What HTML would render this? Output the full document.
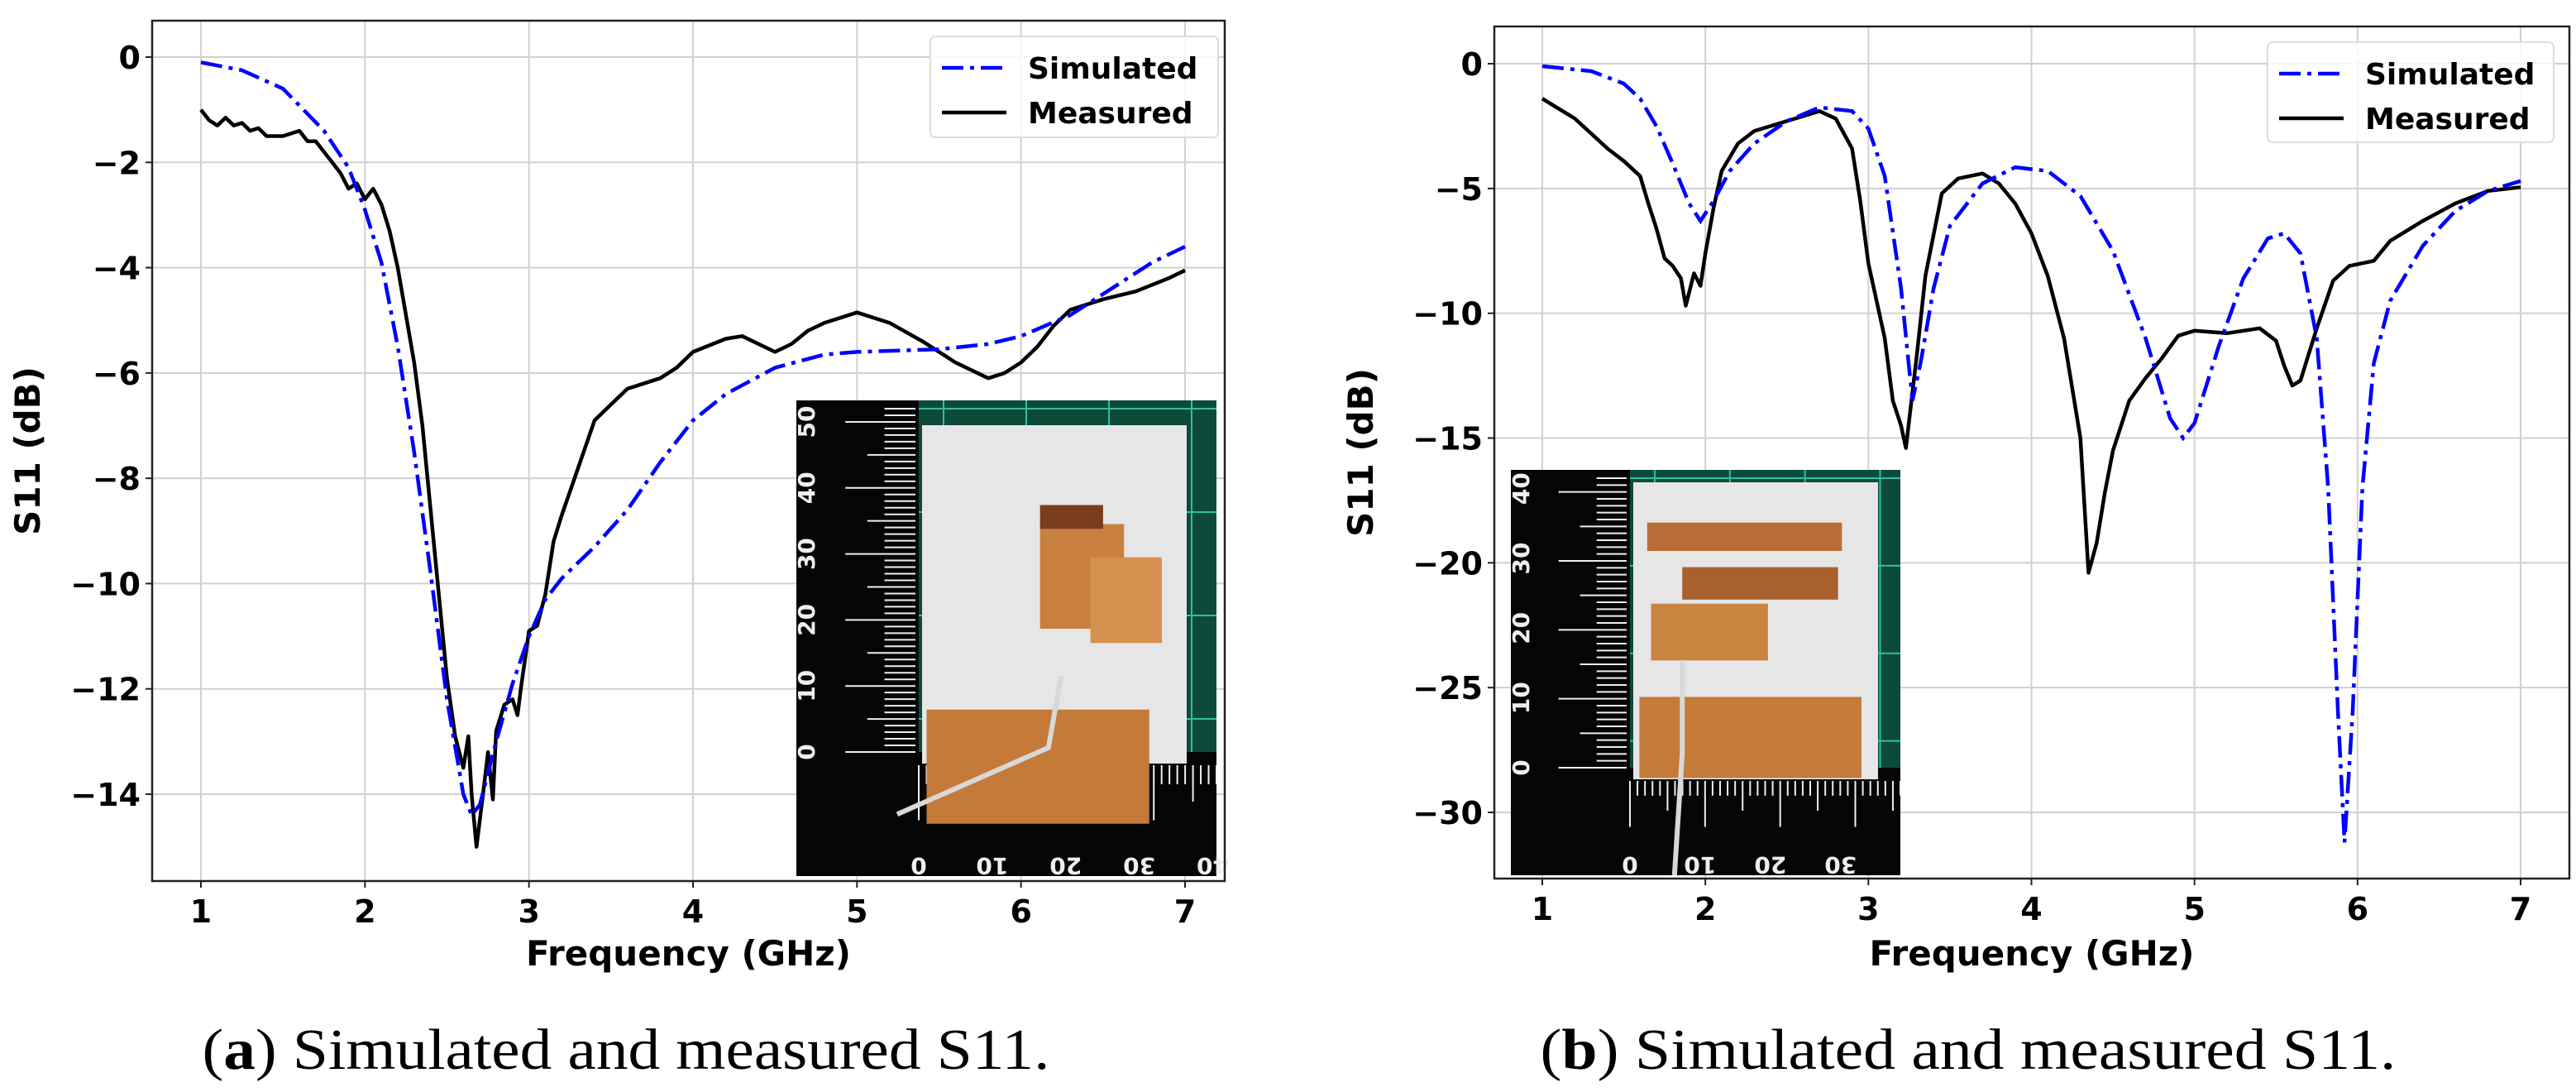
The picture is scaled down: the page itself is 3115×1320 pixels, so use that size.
<!DOCTYPE html>
<html><head><meta charset="utf-8"><style>
html,body{margin:0;padding:0;background:#fff}
svg{display:block}
text{font-family:"DejaVu Sans","Liberation Sans",sans-serif}
text.cap{font-family:"Liberation Serif",serif}
</style></head><body>
<svg id="fig" width="3115" height="1320" viewBox="0 0 3115 1320" xmlns="http://www.w3.org/2000/svg">
<text class="cap" x="757" y="1292" style="font-family:'Liberation Serif',serif" font-size="70" text-anchor="middle" textLength="1025" lengthAdjust="spacingAndGlyphs">(<tspan font-weight="bold">a</tspan>) Simulated and measured S11.</text>
<text class="cap" x="2380" y="1292" style="font-family:'Liberation Serif',serif" font-size="70" text-anchor="middle" textLength="1035" lengthAdjust="spacingAndGlyphs">(<tspan font-weight="bold">b</tspan>) Simulated and measured S11.</text>
</svg>
<script>
// ---- Panel (a) data ----
const aSimX=[1,1.25,1.5,1.75,1.9,2.0,2.1,2.2,2.3,2.4,2.5,2.6,2.65,2.7,2.8,2.9,3.0,3.1,3.2,3.4,3.6,3.8,4.0,4.2,4.5,4.8,5.0,5.5,5.8,6.0,6.3,6.6,6.8,7.0];
const aSimY=[-0.1,-0.25,-0.6,-1.4,-2.1,-2.9,-3.9,-5.5,-7.5,-9.8,-12.2,-14.0,-14.4,-14.2,-13.0,-11.9,-11.0,-10.3,-9.9,-9.3,-8.6,-7.7,-6.9,-6.4,-5.9,-5.65,-5.6,-5.55,-5.45,-5.3,-4.9,-4.3,-3.9,-3.6];
const aMeasX=[1,1.05,1.1,1.15,1.2,1.25,1.3,1.35,1.4,1.5,1.6,1.65,1.7,1.8,1.85,1.9,1.95,2.0,2.05,2.1,2.15,2.2,2.25,2.3,2.35,2.4,2.45,2.5,2.55,2.6,2.63,2.65,2.68,2.72,2.75,2.78,2.8,2.85,2.9,2.93,2.95,3.0,3.05,3.1,3.15,3.2,3.3,3.4,3.5,3.6,3.8,3.9,4.0,4.2,4.3,4.5,4.6,4.7,4.8,5.0,5.2,5.4,5.6,5.8,5.9,6.0,6.1,6.2,6.3,6.5,6.7,6.9,7.0];
const aMeasY=[-1.0,-1.2,-1.3,-1.15,-1.3,-1.25,-1.4,-1.35,-1.5,-1.5,-1.4,-1.6,-1.6,-2.0,-2.2,-2.5,-2.4,-2.7,-2.5,-2.8,-3.3,-4.0,-4.9,-5.8,-7.0,-8.6,-10.2,-11.8,-12.9,-13.5,-12.9,-14.0,-15.0,-14.0,-13.2,-14.1,-12.8,-12.3,-12.2,-12.5,-12.0,-10.9,-10.8,-10.2,-9.2,-8.7,-7.8,-6.9,-6.6,-6.3,-6.1,-5.9,-5.6,-5.35,-5.3,-5.6,-5.45,-5.2,-5.05,-4.85,-5.05,-5.4,-5.8,-6.1,-6.0,-5.8,-5.5,-5.1,-4.8,-4.6,-4.45,-4.2,-4.05];
const aYTicks=[0,-2,-4,-6,-8,-10,-12,-14];
const aYTickLabels=["0","\u22122","\u22124","\u22126","\u22128","\u221210","\u221212","\u221214"];
// ---- Panel (b) data ----
const bSimX=[1,1.3,1.5,1.6,1.7,1.8,1.9,1.97,2.05,2.15,2.3,2.5,2.7,2.9,3.0,3.1,3.2,3.27,3.32,3.4,3.5,3.7,3.9,4.1,4.3,4.5,4.7,4.85,4.93,5.0,5.15,5.3,5.45,5.55,5.65,5.75,5.82,5.88,5.92,5.97,6.03,6.1,6.2,6.4,6.6,6.8,7.0];
const bSimY=[-0.1,-0.3,-0.8,-1.4,-2.5,-4.0,-5.6,-6.3,-5.5,-4.3,-3.2,-2.3,-1.75,-1.9,-2.6,-4.5,-9,-13.5,-12,-9,-6.5,-4.8,-4.15,-4.3,-5.3,-7.5,-11,-14.2,-15,-14.4,-11.3,-8.6,-7.0,-6.8,-7.6,-11,-17,-26,-31.2,-26,-17,-12,-9.5,-7.3,-5.9,-5.1,-4.7];
const bMeasX=[1,1.05,1.1,1.15,1.2,1.3,1.4,1.5,1.6,1.65,1.7,1.75,1.8,1.85,1.88,1.93,1.97,2.0,2.05,2.1,2.2,2.3,2.5,2.7,2.8,2.9,2.95,3.0,3.1,3.15,3.2,3.23,3.3,3.35,3.45,3.55,3.7,3.8,3.9,4.0,4.1,4.2,4.3,4.35,4.4,4.45,4.5,4.6,4.7,4.8,4.9,5.0,5.2,5.4,5.5,5.55,5.6,5.65,5.75,5.85,5.95,6.1,6.2,6.4,6.6,6.8,7.0];
const bMeasY=[-1.4,-1.6,-1.8,-2.0,-2.2,-2.8,-3.4,-3.9,-4.5,-5.6,-6.6,-7.8,-8.1,-8.6,-9.7,-8.4,-8.9,-7.6,-5.8,-4.3,-3.2,-2.7,-2.3,-1.9,-2.2,-3.4,-5.5,-8,-11,-13.5,-14.5,-15.4,-11.5,-8.5,-5.2,-4.6,-4.4,-4.8,-5.6,-6.8,-8.5,-11.0,-15,-20.4,-19.2,-17.2,-15.5,-13.5,-12.6,-11.8,-10.9,-10.7,-10.8,-10.6,-11.1,-12.1,-12.9,-12.7,-10.6,-8.7,-8.1,-7.9,-7.1,-6.3,-5.6,-5.1,-4.95];
const bYTicks=[0,-5,-10,-15,-20,-25,-30];
const bYTickLabels=["0","\u22125","\u221210","\u221215","\u221220","\u221225","\u221230"];
const xTicks=[1,2,3,4,5,6,7];

const NS="http://www.w3.org/2000/svg";
const svg=document.getElementById('fig');
function mk(tag,attrs,parent){const e=document.createElementNS(NS,tag);for(const k in attrs)e.setAttribute(k,attrs[k]);(parent||svg).appendChild(e);return e;}

function panel(cfg){
  const g=mk('g',{});
  
  
  const X=v=>cfg.x1px+(v-1)*(cfg.x7px-cfg.x1px)/6;
  const Y=v=>cfg.y0px+(v-0)*(cfg.yRefPx-cfg.y0px)/cfg.yRef;
  xTicks.forEach(t=>{const l=mk('line',{x1:X(t),x2:X(t),y1:cfg.top,y2:cfg.bottom,stroke:'#d0d0d0','stroke-width':2},g);
    });
  cfg.yTicks.forEach(t=>{const l=mk('line',{x1:cfg.left,x2:cfg.right,y1:Y(t),y2:Y(t),stroke:'#d0d0d0','stroke-width':2},g);
    });
  insetPhoto(g,cfg.inset);
  const path=(xs,ys)=>xs.map((x,i)=>(i?'L':'M')+X(x).toFixed(1)+' '+Y(ys[i]).toFixed(1)).join(' ');
  const meas=mk('path',{d:path(cfg.measX,cfg.measY),fill:'none',stroke:'#000','stroke-width':4.5,'stroke-linejoin':'round'},g);
  
  const sim=mk('path',{d:path(cfg.simX,cfg.simY),fill:'none',stroke:'#0000ff','stroke-width':4.5,'stroke-dasharray':'26 8 5 8'},g);
  
  const fr=mk('rect',{x:cfg.left,y:cfg.top,width:cfg.right-cfg.left,height:cfg.bottom-cfg.top,fill:'none',stroke:'#222','stroke-width':2.5},g);
  
  xTicks.forEach(t=>{mk('line',{x1:X(t),x2:X(t),y1:cfg.bottom,y2:cfg.bottom+8,stroke:'#222','stroke-width':2},g);
    const tx=mk('text',{x:X(t),y:cfg.bottom+50,'font-size':38,'font-weight':'bold','text-anchor':'middle'},g);tx.textContent=t;
    });
  cfg.yTicks.forEach((t,i)=>{mk('line',{x1:cfg.left-8,x2:cfg.left,y1:Y(t),y2:Y(t),stroke:'#222','stroke-width':2},g);
    const tx=mk('text',{x:cfg.left-14,y:Y(t)+14,'font-size':38,'font-weight':'bold','text-anchor':'end'},g);tx.textContent=cfg.yLabels[i];
    });
  const xt=mk('text',{x:(cfg.left+cfg.right)/2,y:1167,'font-size':42,'font-weight':'bold','text-anchor':'middle'},g);
  xt.textContent='Frequency (GHz)';
  const yt=mk('text',{x:0,y:0,'font-size':42,'font-weight':'bold','text-anchor':'middle',transform:`translate(${cfg.ytx},${(cfg.top+cfg.bottom)/2}) rotate(-90)`},g);
  yt.textContent='S11 (dB)';
  const L=cfg.legend;
  const lg=mk('g',{},g);
  mk('rect',{x:L.x,y:L.y,width:L.w,height:L.h,rx:6,fill:'#fff','fill-opacity':0.85,stroke:'#ddd','stroke-width':2},lg);
  const e1=mk('g',{},lg);
  mk('line',{x1:L.x+14,x2:L.x+92,y1:L.y+38,y2:L.y+38,stroke:'#0000ff','stroke-width':4.5,'stroke-dasharray':'26 8 5 8'},e1);
  const t1=mk('text',{x:L.x+118,y:L.y+51,'font-size':36,'font-weight':'bold'},e1);t1.textContent='Simulated';
  const e2=mk('g',{},lg);
  mk('line',{x1:L.x+14,x2:L.x+92,y1:L.y+92,y2:L.y+92,stroke:'#000','stroke-width':4.5},e2);
  const t2=mk('text',{x:L.x+118,y:L.y+105,'font-size':36,'font-weight':'bold'},e2);t2.textContent='Measured';
}

function insetPhoto(parent,r){
  const g=mk('g',{},parent);
  
  
  const {x,y,w,h,rw,rb}=r;
  mk('rect',{x:x,y:y,width:w,height:h,fill:'#050505'},g);
  mk('rect',{x:x+rw,y:y,width:w-rw,height:h-rb,fill:'#0d4a3a'},g);
  for(let i=0;i<4;i++){mk('line',{x1:x+rw+i*(w-rw)/3.6+30,x2:x+rw+i*(w-rw)/3.6+30,y1:y,y2:y+h-rb,stroke:'#2fc0a0','stroke-width':2},g);
    mk('line',{x1:x+rw,x2:x+w,y1:y+10+i*(h-rb)/3.4,y2:y+10+i*(h-rb)/3.4,stroke:'#2fc0a0','stroke-width':2},g);}
  mk('rect',{x:x+rw+4,y:y+r.py,width:r.pw,height:h-rb-r.py+14,fill:'#e6e6e6'},g);
  for(let i=0;i<=r.nv;i++){const yy=y+h-rb-i*(h-rb-10)/r.nv;const len=i%10==0?rw*0.6:(i%5==0?rw*0.42:rw*0.28);
    mk('line',{x1:x+rw-len,x2:x+rw-4,y1:yy,y2:yy,stroke:'#eee','stroke-width':2},g);}
  for(let i=0;i<=r.nh;i++){const xx=x+rw+i*(w-rw)/r.nh;const len=i%10==0?rb*0.55:(i%5==0?rb*0.4:rb*0.26);
    mk('line',{x1:xx,x2:xx,y1:y+h-rb+16,y2:y+h-rb+len,stroke:'#eee','stroke-width':2},g);}
  r.copper.forEach(c=>mk('rect',{x:x+c[0]*w,y:y+c[1]*h,width:c[2]*w,height:c[3]*h,fill:c[4]},g));
  mk('path',{d:`M${x+r.cab[0]*w} ${y+r.cab[1]*h} L${x+r.cab[2]*w} ${y+r.cab[3]*h} L${x+r.cab[4]*w} ${y+r.cab[5]*h}`,fill:'none',stroke:'#d8d8d8','stroke-width':6},g);
  r.vlabels.forEach((s,i)=>{const yy=y+h-rb-i*(h-rb-10)/(r.vlabels.length-1+r.vextra);
    mk('text',{x:0,y:0,'font-size':28,'font-weight':'bold',fill:'#eee','text-anchor':'middle',transform:`translate(${x+22},${yy}) rotate(-90)`},g).textContent=s;});
  r.hlabels.forEach((s,i)=>{const xx=x+rw+i*(w-rw)/(r.hlabels.length-1+r.hextra);
    mk('text',{x:0,y:0,'font-size':28,'font-weight':'bold',fill:'#eee','text-anchor':'middle',transform:`translate(${xx},${y+h-22}) rotate(180)`},g).textContent=s;});
}

panel({name:'panel-a',left:184,right:1481,top:25,bottom:1065,x1px:243,x7px:1433,y0px:69,yRef:-14,yRefPx:960,
  yTicks:aYTicks,yLabels:aYTickLabels,simX:aSimX,simY:aSimY,measX:aMeasX,measY:aMeasY,ytx:48,
  legend:{x:1125,y:44,w:348,h:122},
  inset:{x:963,y:484,w:508,h:575,rw:148,rb:150,py:30,pw:320,nv:52,nh:38,
    vlabels:['0','10','20','30','40','50'],vextra:0.2,hlabels:['0','10','20','30','40'],hextra:0.05,
    copper:[[0.58,0.26,0.2,0.22,'#c9803f'],[0.7,0.33,0.17,0.18,'#d69050'],[0.31,0.65,0.53,0.24,'#c47a38'],[0.58,0.22,0.15,0.05,'#7a3e1e']],
    cab:[0.24,0.87,0.6,0.73,0.63,0.58]}});
panel({name:'panel-b',left:1807,right:3107,top:32,bottom:1062,x1px:1865,x7px:3048,y0px:77,yRef:-30,yRefPx:982,
  yTicks:bYTicks,yLabels:bYTickLabels,simX:bSimX,simY:bSimY,measX:bMeasX,measY:bMeasY,ytx:1660,
  legend:{x:2742,y:51,w:346,h:121},
  inset:{x:1827,y:568,w:471,h:490,rw:144,rb:130,py:15,pw:296,nv:42,nh:36,
    vlabels:['0','10','20','30','40'],vextra:0.15,hlabels:['0','10','20','30'],hextra:0.85,
    copper:[[0.35,0.13,0.5,0.07,'#b86d36'],[0.44,0.24,0.4,0.08,'#a8602e'],[0.36,0.33,0.3,0.14,'#c9843f'],[0.33,0.56,0.57,0.2,'#c47a38']],
    cab:[0.42,1.0,0.44,0.7,0.44,0.47]}});
</script>
</body></html>
